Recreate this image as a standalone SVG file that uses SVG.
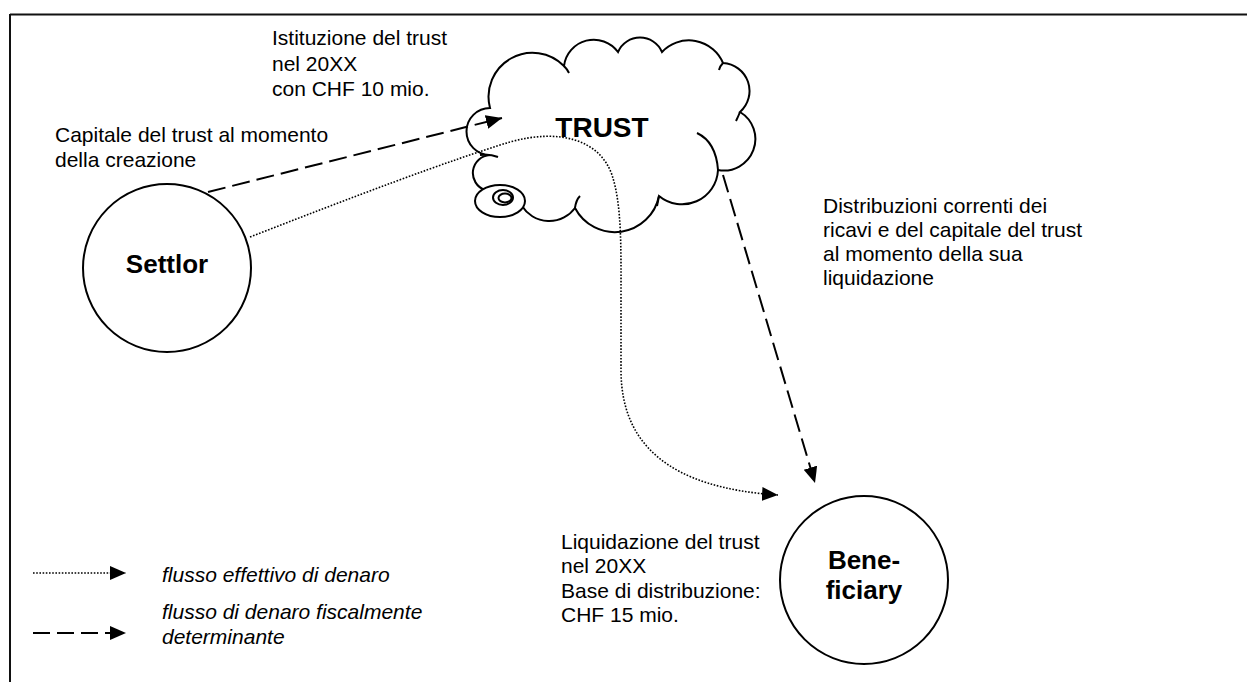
<svg xmlns="http://www.w3.org/2000/svg" width="1247" height="682" viewBox="0 0 1247 682">
<style>
.t{font-family:"Liberation Sans",Arial,sans-serif;font-size:21px;fill:#000}
.i{font-style:italic}
.b{font-family:"Liberation Sans",Arial,sans-serif;font-size:26px;font-weight:bold;fill:#000;text-anchor:middle}
.node{fill:#fff;stroke:#000;stroke-width:2}
.dash{fill:none;stroke:#000;stroke-width:2;stroke-dasharray:18 7}
.dot{fill:none;stroke:#000;stroke-width:1.6;stroke-dasharray:1.6 1.6}
.hook{fill:none;stroke:#000;stroke-width:2}
</style>
<defs>
<marker id="ah" markerUnits="userSpaceOnUse" markerWidth="18" markerHeight="16" refX="16" refY="7" orient="auto">
<path d="M0,0 L16,7 L0,14 z" fill="#000"/>
</marker>
</defs>
<rect width="1247" height="682" fill="#fff"/>
<g id="frame">
<line x1="10" y1="14.5" x2="1247" y2="14.5" stroke="#111" stroke-width="2"/>
<line x1="10" y1="14" x2="10" y2="682" stroke="#111" stroke-width="2"/>
</g>
<g id="trust">
<path class="node" d="M490,108 A44,44 0 0 1 564,66 A30,30 0 0 1 618,52 A24,24 0 0 1 662,52 A37,37 0 0 1 723,63 A28,28 0 0 1 740,112 A31.5,31.5 0 0 1 718,170 A36,36 0 0 1 659,196 A45,45 0 0 1 575,208 A32,32 0 0 1 522,206 L485,190 A18,18 0 0 1 490,155 A23.5,23.5 0 0 1 490,108 Z"/>
<path class="hook" d="M697,133 Q716,142 718,170 M659,196 L657,206 M575,208 Q576,200 580,196 M480,155 Q490,154 498,157 M564,66 Q567,69 569,73 M740,112 Q738,117 736,121 M723,63 Q720,66 719,70"/>
<ellipse class="node" cx="500" cy="201" rx="25" ry="16"/>
<ellipse fill="none" stroke="#000" stroke-width="2" cx="503" cy="197.5" rx="10" ry="7.5"/>
<ellipse fill="none" stroke="#000" stroke-width="2" cx="505" cy="198" rx="6.5" ry="4.5"/>
<text class="b" x="602" y="137" style="font-size:28px">TRUST</text>
</g>
<g id="settlor">
<circle class="node" cx="167" cy="268" r="84"/>
<text class="b" x="167" y="273">Settlor</text>
</g>
<g id="beneficiary">
<circle class="node" cx="864" cy="580" r="84"/>
<text class="b" x="864" y="569">Bene-</text>
<text class="b" x="864" y="599">ficiary</text>
</g>
<g id="connectors">
<line class="dash" x1="208" y1="192" x2="502" y2="118" marker-end="url(#ah)"/>
<path class="dot" d="M250,237 C350,198 450,160 510,142 C560,128 600,140 612,175 C622,205 621,250 621,300 L621,370 C621,445 670,488 778,495" marker-end="url(#ah)"/>
<line class="dash" x1="723" y1="175" x2="815" y2="483" marker-end="url(#ah)"/>
</g>
<g id="labels">
<text class="t" x="272" y="45">Istituzione del trust</text>
<text class="t" x="272" y="71">nel 20XX</text>
<text class="t" x="272" y="96">con CHF 10 mio.</text>
<text class="t" x="55" y="142">Capitale del trust al momento</text>
<text class="t" x="55" y="167">della creazione</text>
<text class="t" x="823" y="213">Distribuzioni correnti dei</text>
<text class="t" x="823" y="237">ricavi e del capitale del trust</text>
<text class="t" x="823" y="261">al momento della sua</text>
<text class="t" x="823" y="285">liquidazione</text>
<text class="t" x="561" y="549">Liquidazione del trust</text>
<text class="t" x="561" y="573">nel 20XX</text>
<text class="t" x="561" y="598">Base di distribuzione:</text>
<text class="t" x="561" y="622">CHF 15 mio.</text>
</g>
<g id="legend">
<line class="dot" x1="33" y1="573" x2="126" y2="573" marker-end="url(#ah)"/>
<line x1="33" y1="633" x2="126" y2="633" stroke="#000" stroke-width="2" stroke-dasharray="17 7" marker-end="url(#ah)"/>
<text class="t i" x="162" y="582">flusso effettivo di denaro</text>
<text class="t i" x="162" y="619">flusso di denaro fiscalmente</text>
<text class="t i" x="162" y="644">determinante</text>
</g>
</svg>
